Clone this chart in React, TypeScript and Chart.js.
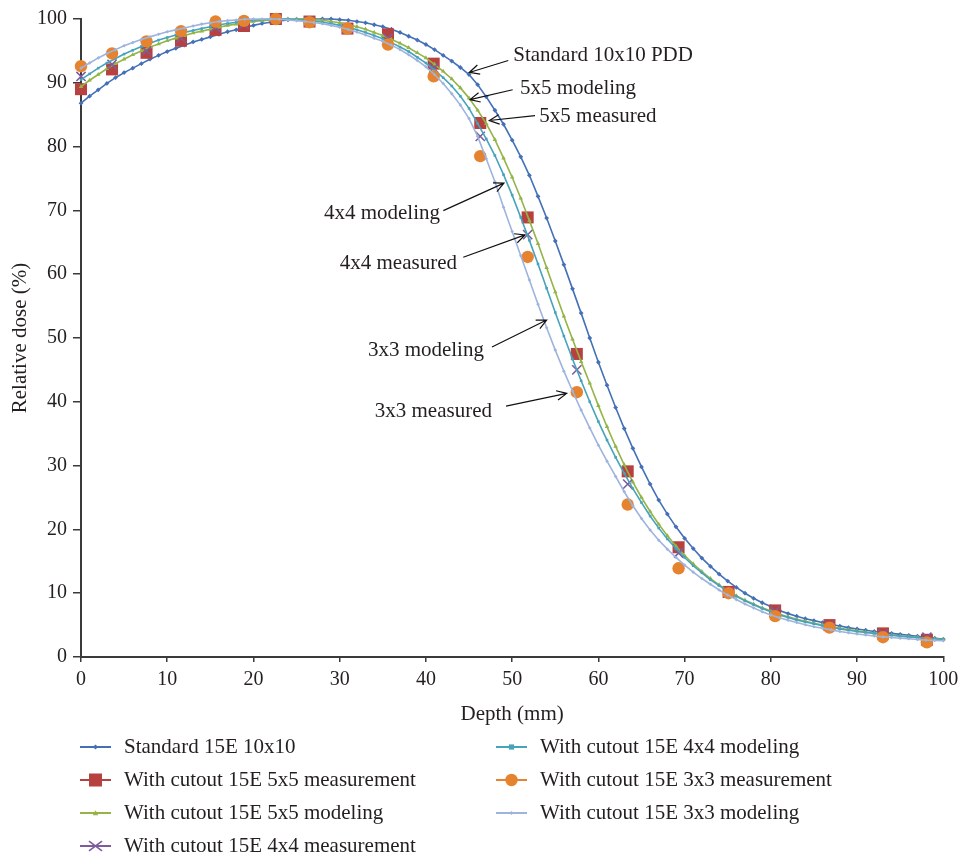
import React, { useEffect, useRef } from "react";
import { Chart, registerables } from "chart.js";

Chart.register(...registerables);

const FONT = "'Liberation Serif', 'Times New Roman', serif";
const TEXT = "#231F20";
const AXIS = "#3A3A3A";

// ---- data ----
const modelDepth: number[] = Array.from({ length: 102 }, (_, i) => i);

const standard10x10 = [
  86.8, 87.9, 88.9, 89.9, 90.8, 91.6, 92.3, 93.0, 93.7, 94.3,
  94.9, 95.4, 95.9, 96.4, 96.8, 97.2, 97.6, 98.0, 98.3, 98.7,
  99.0, 99.3, 99.5, 99.7, 99.85, 99.95, 100, 100, 100, 100,
  99.9, 99.8, 99.6, 99.4, 99.1, 98.8, 98.4, 97.9, 97.3, 96.7,
  96.0, 95.2, 94.3, 93.4, 92.4, 91.3, 89.7, 87.8, 85.7, 83.5,
  81.0, 78.4, 75.5, 72.2, 68.8, 65.2, 61.5, 57.7, 53.9, 50.0,
  46.2, 42.6, 39.1, 35.8, 32.7, 29.8, 27.1, 24.6, 22.4, 20.4,
  18.6, 17.0, 15.5, 14.2, 13.0, 11.9, 10.9, 10.0, 9.2, 8.5,
  7.9, 7.3, 6.8, 6.4, 6.0, 5.7, 5.4, 5.1, 4.85, 4.6,
  4.4, 4.2, 4.0, 3.85, 3.7, 3.55, 3.4, 3.25, 3.1, 2.95,
  2.8, 2.65,
];

const model5x5 = [
  89.4, 90.4, 91.3, 92.2, 93.0, 93.7, 94.4, 95.0, 95.6, 96.1,
  96.6, 97.0, 97.4, 97.8, 98.1, 98.4, 98.7, 99.0, 99.2, 99.4,
  99.6, 99.75, 99.85, 99.95, 100, 100, 100, 99.9, 99.8, 99.6,
  99.4, 99.1, 98.8, 98.4, 97.9, 97.4, 96.8, 96.2, 95.5, 94.7,
  93.9, 92.9, 91.8, 90.6, 89.2, 87.6, 85.7, 83.6, 81.1, 78.2,
  75.2, 71.9, 68.4, 64.8, 61.0, 57.2, 53.4, 49.8, 46.3, 42.9,
  39.4, 36.1, 33.0, 30.1, 27.4, 25.0, 22.8, 20.8, 19.0, 17.4,
  15.9, 14.6, 13.4, 12.3, 11.3, 10.4, 9.6, 8.9, 8.3, 7.7,
  7.2, 6.7, 6.3, 5.9, 5.6, 5.3, 5.0, 4.75, 4.5, 4.3,
  4.1, 3.9, 3.75, 3.6, 3.45, 3.3, 3.2, 3.1, 2.95, 2.85,
  2.75, 2.6,
];

const model4x4 = [
  90.5, 91.4, 92.3, 93.1, 93.8, 94.5, 95.1, 95.7, 96.2, 96.7,
  97.1, 97.5, 97.9, 98.2, 98.5, 98.8, 99.1, 99.3, 99.5, 99.7,
  99.8, 99.9, 100, 100, 100, 99.9, 99.8, 99.7, 99.5, 99.3,
  99.0, 98.7, 98.3, 97.9, 97.4, 96.9, 96.3, 95.6, 94.9, 94.0,
  93.1, 92.0, 90.8, 89.5, 87.9, 86.0, 83.6, 81.2, 78.6, 75.6,
  72.4, 68.9, 65.3, 61.6, 57.8, 54.0, 50.3, 46.7, 43.3, 40.0,
  36.9, 34.0, 31.3, 28.8, 26.4, 24.2, 22.1, 20.2, 18.5, 17.0,
  15.6, 14.3, 13.2, 12.1, 11.2, 10.3, 9.5, 8.8, 8.2, 7.6,
  7.1, 6.6, 6.2, 5.8, 5.5, 5.2, 4.9, 4.65, 4.4, 4.2,
  4.0, 3.85, 3.7, 3.55, 3.4, 3.25, 3.15, 3.05, 2.9, 2.8,
  2.7, 2.6,
];

const model3x3 = [
  92.3, 93.1, 93.9, 94.6, 95.2, 95.8, 96.3, 96.8, 97.2, 97.6,
  98.0, 98.3, 98.6, 98.9, 99.2, 99.4, 99.6, 99.75, 99.85, 99.95,
  100, 100, 100, 99.95, 99.85, 99.75, 99.6, 99.45, 99.25, 99.0,
  98.7, 98.35, 97.95, 97.5, 97.0, 96.5, 95.9, 95.2, 94.4, 93.5,
  92.5, 91.3, 89.9, 88.3, 86.5, 84.4, 81.6, 78.1, 74.5, 70.5,
  66.7, 62.9, 59.1, 55.3, 51.6, 48.1, 44.8, 41.7, 38.7, 35.9,
  33.2, 30.7, 28.3, 25.9, 23.7, 21.7, 19.9, 18.3, 16.9, 15.6,
  14.4, 13.3, 12.3, 11.4, 10.5, 9.7, 9.0, 8.3, 7.7, 7.1,
  6.6, 6.15, 5.75, 5.4, 5.05, 4.75, 4.5, 4.25, 4.0, 3.8,
  3.6, 3.45, 3.3, 3.15, 3.05, 2.95, 2.85, 2.75, 2.65, 2.6,
  2.55, 2.5,
];

const measDepth = [0, 3.6, 7.6, 11.6, 15.6, 18.9, 22.6, 26.5, 30.9, 35.6, 40.9, 46.3, 51.8, 57.5, 63.4, 69.3, 75.1, 80.5, 86.8, 93.0, 98.1];
const meas5x5 = [89.0, 92.1, 94.7, 96.6, 98.3, 98.9, 100, 99.6, 98.5, 97.6, 93.0, 83.7, 68.9, 47.5, 29.1, 17.2, 10.2, 7.3, 5.0, 3.7, 2.7];
const meas4x4 = [91.0, 92.9, 95.0, 97.0, 98.7, 99.2, 100, 99.6, 98.4, 97.0, 92.3, 81.6, 66.2, 45.0, 27.1, 16.3, 10.1, 7.2, 5.0, 3.6, 3.1];
const meas3x3 = [92.6, 94.6, 96.5, 98.1, 99.6, 99.7, 100, 99.5, 98.5, 96.0, 91.0, 78.5, 62.7, 41.5, 23.9, 13.9, 10.0, 6.4, 4.6, 3.1, 2.3];

const seriesNames = [
  "Standard 15E 10x10",
  "With cutout 15E 5x5 measurement",
  "With cutout 15E 5x5 modeling",
  "With cutout 15E 4x4 measurement",
  "With cutout 15E 4x4 modeling",
  "With cutout 15E 3x3 measurement",
  "With cutout 15E 3x3 modeling",
];

const xTicks = [0, 10, 20, 30, 40, 50, 60, 70, 80, 90, 100];

// annotations (in data units)
const noteLabels = ["Standard 10x10 PDD", "5x5 modeling", "5x5 measured", "4x4 modeling", "4x4 measured", "3x3 modeling", "3x3 measured"];
const noteAlign: CanvasTextAlign[] = ["left", "left", "left", "right", "right", "right", "right"];
const noteTextX = [50.13, 50.91, 53.15, 41.63, 43.6, 46.73, 47.66];
const noteTextY = [94.24, 89.17, 84.72, 69.56, 61.72, 48.12, 38.44];
const arrowFromX = [49.55, 50.06, 52.65, 42.02, 44.33, 47.66, 49.29];
const arrowFromY = [93.5, 88.91, 84.87, 69.97, 62.66, 48.59, 39.33];
const arrowToX = [45.03, 45.11, 47.35, 49.05, 51.49, 54.0, 56.33];
const arrowToY = [91.62, 87.37, 84.09, 74.27, 66.16, 52.82, 41.32];

// ---- styles ----
const colors = ["#4470B7", "#B7413E", "#94B447", "#7D5C9E", "#46A3BC", "#E5832E", "#9EB4DE"];
const markerStyles = ["rectRot", "rect", "triangle", "crossRot", "rect", "circle", "rectRot"];
const legendMarkerR = [2.6, 6.5, 2.8, 6.5, 2.6, 6.2, 2];

function toXY(xs: number[], ys: number[]) {
  return ys.map((y, i) => ({ x: xs[i], y }));
}

function drawMarker(ctx: CanvasRenderingContext2D, style: string, x: number, y: number, r: number, color: string) {
  ctx.save();
  ctx.fillStyle = color;
  ctx.strokeStyle = color;
  ctx.beginPath();
  if (style === "circle") {
    ctx.arc(x, y, r, 0, Math.PI * 2);
    ctx.fill();
  } else if (style === "rect") {
    ctx.rect(x - r, y - r, 2 * r, 2 * r);
    ctx.fill();
  } else if (style === "rectRot") {
    ctx.moveTo(x, y - r);
    ctx.lineTo(x + r, y);
    ctx.lineTo(x, y + r);
    ctx.lineTo(x - r, y);
    ctx.closePath();
    ctx.fill();
  } else if (style === "triangle") {
    ctx.moveTo(x, y - r);
    ctx.lineTo(x + r, y + r * 0.8);
    ctx.lineTo(x - r, y + r * 0.8);
    ctx.closePath();
    ctx.fill();
  } else if (style === "crossRot") {
    ctx.lineWidth = 1.6;
    ctx.moveTo(x - r, y - r * 0.75);
    ctx.lineTo(x + r, y + r * 0.75);
    ctx.moveTo(x - r, y + r * 0.75);
    ctx.lineTo(x + r, y - r * 0.75);
    ctx.stroke();
  }
  ctx.restore();
}

const legendPlugin = {
  id: "columnLegend",
  afterDraw(chart: any) {
    const ctx: CanvasRenderingContext2D = chart.ctx;
    const colX = [80, 496];
    const rowY = [747, 780, 813, 846];
    ctx.save();
    seriesNames.forEach((name, i) => {
      const col = i < 4 ? 0 : 1;
      const row = i < 4 ? i : i - 4;
      const x0 = colX[col];
      const y = rowY[row];
      ctx.strokeStyle = colors[i];
      ctx.lineWidth = 2;
      ctx.beginPath();
      ctx.moveTo(x0, y);
      ctx.lineTo(x0 + 31, y);
      ctx.stroke();
      drawMarker(ctx, markerStyles[i], x0 + 15.5, y, legendMarkerR[i], colors[i]);
      ctx.fillStyle = TEXT;
      ctx.font = `21px ${FONT}`;
      ctx.textAlign = "left";
      ctx.textBaseline = "middle";
      ctx.fillText(name, x0 + 44, y);
    });
    ctx.restore();
  },
};

const notePlugin = {
  id: "notes",
  afterDatasetsDraw(chart: any) {
    const ctx: CanvasRenderingContext2D = chart.ctx;
    const xs = chart.scales.x;
    const ys = chart.scales.y;
    ctx.save();
    ctx.font = `21px ${FONT}`;
    ctx.fillStyle = TEXT;
    ctx.strokeStyle = "#111";
    ctx.lineWidth = 1.2;
    ctx.textBaseline = "middle";
    noteLabels.forEach((label, i) => {
      ctx.textAlign = noteAlign[i];
      ctx.fillText(label, xs.getPixelForValue(noteTextX[i]), ys.getPixelForValue(noteTextY[i]));
      const fx = xs.getPixelForValue(arrowFromX[i]);
      const fy = ys.getPixelForValue(arrowFromY[i]);
      const tx = xs.getPixelForValue(arrowToX[i]);
      const ty = ys.getPixelForValue(arrowToY[i]);
      ctx.beginPath();
      ctx.moveTo(fx, fy);
      ctx.lineTo(tx, ty);
      const ang = Math.atan2(ty - fy, tx - fx);
      const len = 11;
      const spread = 0.45;
      ctx.moveTo(tx - len * Math.cos(ang - spread), ty - len * Math.sin(ang - spread));
      ctx.lineTo(tx, ty);
      ctx.lineTo(tx - len * Math.cos(ang + spread), ty - len * Math.sin(ang + spread));
      ctx.stroke();
    });
    ctx.restore();
  },
};

const CANVAS_W = 975;
const CANVAS_H = 854;

export default function App() {
  const ref = useRef<HTMLCanvasElement>(null);

  useEffect(() => {
    if (!ref.current) return;
    const modelSets = [
      { idx: 0, ys: standard10x10, r: 2.4 },
      { idx: 2, ys: model5x5, r: 2.6 },
      { idx: 4, ys: model4x4, r: 1.8 },
      { idx: 6, ys: model3x3, r: 1.8 },
    ];
    const measSets = [
      { idx: 1, ys: meas5x5, r: 8.5 },
      { idx: 3, ys: meas4x4, r: 6.5 },
      { idx: 5, ys: meas3x3, r: 6.2 },
    ];
    const datasets: any[] = [];
    for (let i = 0; i < 7; i++) {
      const m = modelSets.find((s) => s.idx === i);
      if (m) {
        datasets.push({
          label: seriesNames[i],
          data: toXY(modelDepth, m.ys),
          showLine: true,
          borderColor: colors[i],
          borderWidth: 1.6,
          pointStyle: markerStyles[i],
          pointRadius: m.r,
          pointBackgroundColor: colors[i],
          pointBorderColor: colors[i],
          pointBorderWidth: 0,
          tension: 0,
          clip: false,
          order: 7 - i,
        });
      } else {
        const s = measSets.find((q) => q.idx === i)!;
        const isCross = markerStyles[i] === "crossRot";
        datasets.push({
          label: seriesNames[i],
          data: toXY(measDepth, s.ys),
          showLine: false,
          borderColor: colors[i],
          pointStyle: markerStyles[i],
          pointRadius: s.r,
          pointBackgroundColor: colors[i],
          pointBorderColor: colors[i],
          pointBorderWidth: isCross ? 1.6 : 0,
          clip: false,
          order: 7 - i,
        });
      }
    }

    const chart = new Chart(ref.current, {
      type: "scatter",
      data: { datasets },
      options: {
        animation: false,
        responsive: false,
        maintainAspectRatio: false,
        events: [],
        layout: { padding: { left: 0, top: 19, right: CANVAS_W - 943.3, bottom: 127 } },
        plugins: {
          legend: { display: false },
          tooltip: { enabled: false },
        },
        scales: {
          x: {
            type: "linear",
            min: 0,
            max: 100,
            afterBuildTicks: (scale: any) => {
              scale.ticks = xTicks.map((v) => ({ value: v }));
            },
            ticks: {
              stepSize: 10,
              font: { family: FONT, size: 20 },
              color: TEXT,
              padding: 6,
              maxRotation: 0,
              autoSkip: false,
            },
            grid: { display: true, drawOnChartArea: false, drawTicks: true, tickLength: 5, color: AXIS, lineWidth: 1.5 },
            border: { display: true, color: AXIS, width: 2 },
            title: { display: true, text: "Depth (mm)", font: { family: FONT, size: 21 }, color: TEXT, padding: { top: 0, bottom: 0 } },
            afterFit: (scale: any) => {
              scale.height = 70;
            },
          },
          y: {
            type: "linear",
            min: 0,
            max: 100,
            ticks: {
              stepSize: 10,
              font: { family: FONT, size: 20 },
              color: TEXT,
              padding: 6,
            },
            grid: { display: true, drawOnChartArea: false, drawTicks: true, tickLength: 8, color: AXIS, lineWidth: 1.5 },
            border: { display: true, color: AXIS, width: 2 },
            title: { display: true, text: "Relative dose (%)", font: { family: FONT, size: 21 }, color: TEXT, padding: { top: 8, bottom: 0 } },
            afterFit: (scale: any) => {
              scale.width = 81;
            },
          },
        },
      } as any,
      plugins: [notePlugin, legendPlugin],
    });
    return () => chart.destroy();
  }, []);

  return (
    <div style={{ position: "fixed", left: 0, top: 0, width: 960, height: 854, overflow: "hidden", background: "#fff" }}>
      <canvas ref={ref} width={CANVAS_W} height={CANVAS_H} style={{ display: "block" }} />
    </div>
  );
}
